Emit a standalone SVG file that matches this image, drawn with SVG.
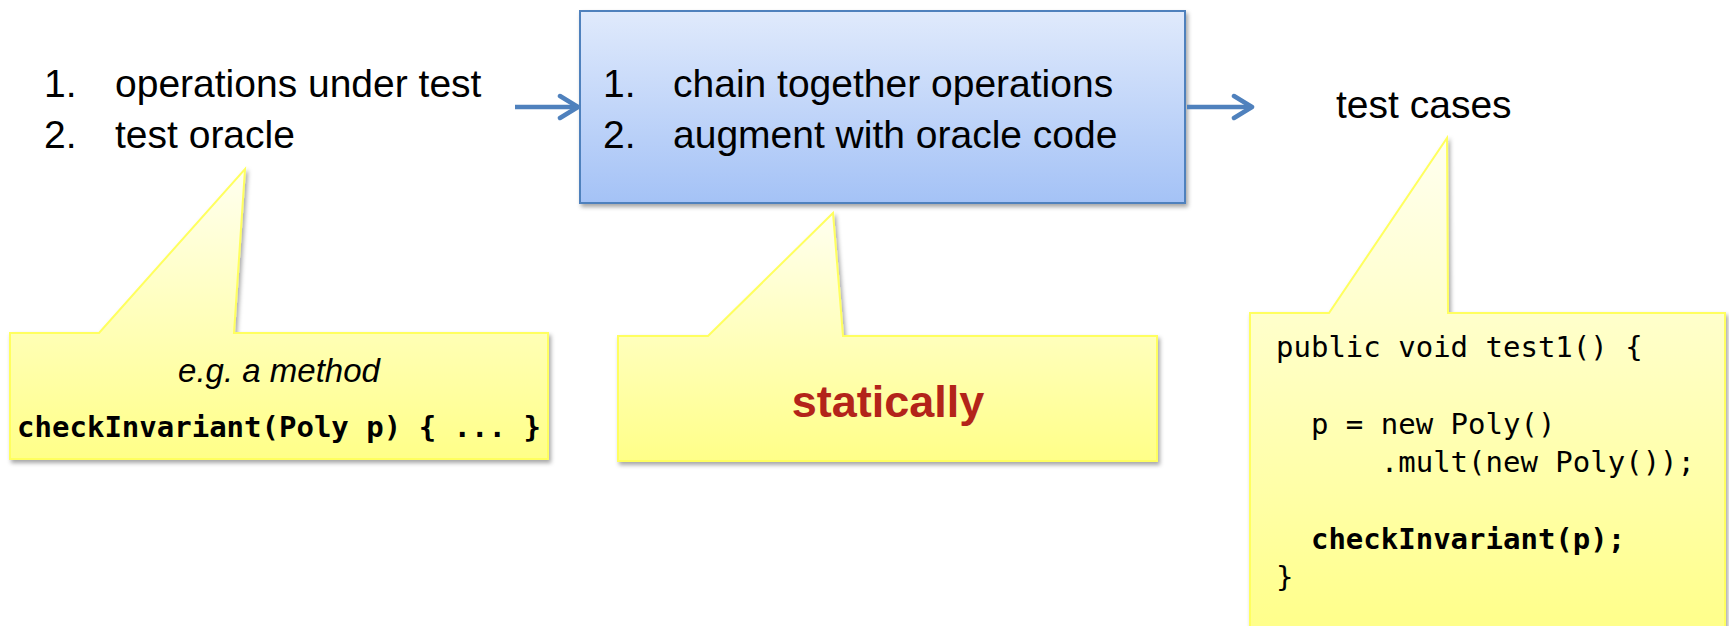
<svg xmlns="http://www.w3.org/2000/svg" width="1729" height="626" viewBox="0 0 1729 626">
  <style>
    .label { font-family: "Liberation Sans", Arial, sans-serif; font-size: 39px; fill: #000; }
    .note { font-family: "Liberation Sans", Arial, sans-serif; font-size: 33px; font-style: italic; fill: #000; }
    .code { font-family: "DejaVu Sans Mono", "Liberation Mono", monospace; font-size: 29px; fill: #000; white-space: pre; }
    .bold { font-weight: bold; }
    .emph { font-family: "Liberation Sans", Arial, sans-serif; font-size: 45px; font-weight: bold; fill: #b3241a; }
    .callout { fill: url(#calloutFill); stroke: #ffff5e; stroke-width: 2; filter: url(#shadow); }
    .conn { stroke: #4f81bd; stroke-width: 4.5; fill: none; marker-end: url(#head); }
  </style>
  <defs>
    <linearGradient id="boxFill" x1="0" y1="0" x2="0" y2="1">
      <stop offset="0" stop-color="#e0eafc"/>
      <stop offset="1" stop-color="#a4c2f6"/>
    </linearGradient>
    <linearGradient id="calloutFill" x1="0" y1="0" x2="0" y2="1">
      <stop offset="0" stop-color="#fffff0"/>
      <stop offset="1" stop-color="#ffff88"/>
    </linearGradient>
    <filter id="shadow" x="-5%" y="-5%" width="115%" height="120%">
      <feDropShadow dx="2" dy="3" stdDeviation="2" flood-color="#000" flood-opacity="0.35"/>
    </filter>
    <marker id="head" markerUnits="userSpaceOnUse" markerWidth="26" markerHeight="28" refX="21" refY="14" orient="auto">
      <path d="M3,3 L21,14 L3,25" fill="none" stroke="#4f81bd" stroke-width="4.5" stroke-linecap="round" stroke-linejoin="round"/>
    </marker>
  </defs>

  <!-- inputs -->
  <g id="inputs">
    <text class="label" x="44" y="97">1.</text>
    <text class="label" x="115" y="97">operations under test</text>
    <text class="label" x="44" y="148">2.</text>
    <text class="label" x="115" y="148">test oracle</text>
  </g>

  <!-- generator step -->
  <g id="generator">
    <rect x="580" y="11" width="605" height="192" fill="url(#boxFill)" stroke="#4f81bd" stroke-width="2" filter="url(#shadow)"/>
    <text class="label" x="603" y="97">1.</text>
    <text class="label" x="673" y="97">chain together operations</text>
    <text class="label" x="603" y="148">2.</text>
    <text class="label" x="673" y="148">augment with oracle code</text>
  </g>

  <!-- output -->
  <g id="output">
    <text class="label" x="1336" y="118">test cases</text>
  </g>

  <!-- connectors -->
  <g id="connectors">
    <line class="conn" x1="515" y1="107" x2="578" y2="107"/>
    <line class="conn" x1="1187" y1="107" x2="1252" y2="107"/>
  </g>

  <!-- oracle callout -->
  <g id="oracle-note">
    <path class="callout" d="M10,333 L99,333 L245,169 L234,333 L548,333 L548,459 L10,459 Z"/>
    <text class="note" x="279" y="382" text-anchor="middle">e.g. a method</text>
    <text class="code bold" x="279" y="437" text-anchor="middle">checkInvariant(Poly p) { ... }</text>
  </g>

  <!-- generation-time callout -->
  <g id="static-note">
    <path class="callout" d="M618,336 L708,336 L833,213 L843,336 L1157,336 L1157,461 L618,461 Z"/>
    <text class="emph" x="888" y="417" text-anchor="middle">statically</text>
  </g>

  <!-- generated test case callout -->
  <g id="testcase-note">
    <path class="callout" d="M1250,313 L1329,313 L1447,138 L1448,313 L1725,313 L1725,640 L1250,640 Z"/>
    <text class="code" x="1276" y="357">public void test1() {</text>
    <text class="code" x="1276" y="434">  p = new Poly()</text>
    <text class="code" x="1276" y="472">      .mult(new Poly());</text>
    <text class="code bold" x="1276" y="549">  checkInvariant(p);</text>
    <text class="code" x="1276" y="587">}</text>
  </g>
</svg>
